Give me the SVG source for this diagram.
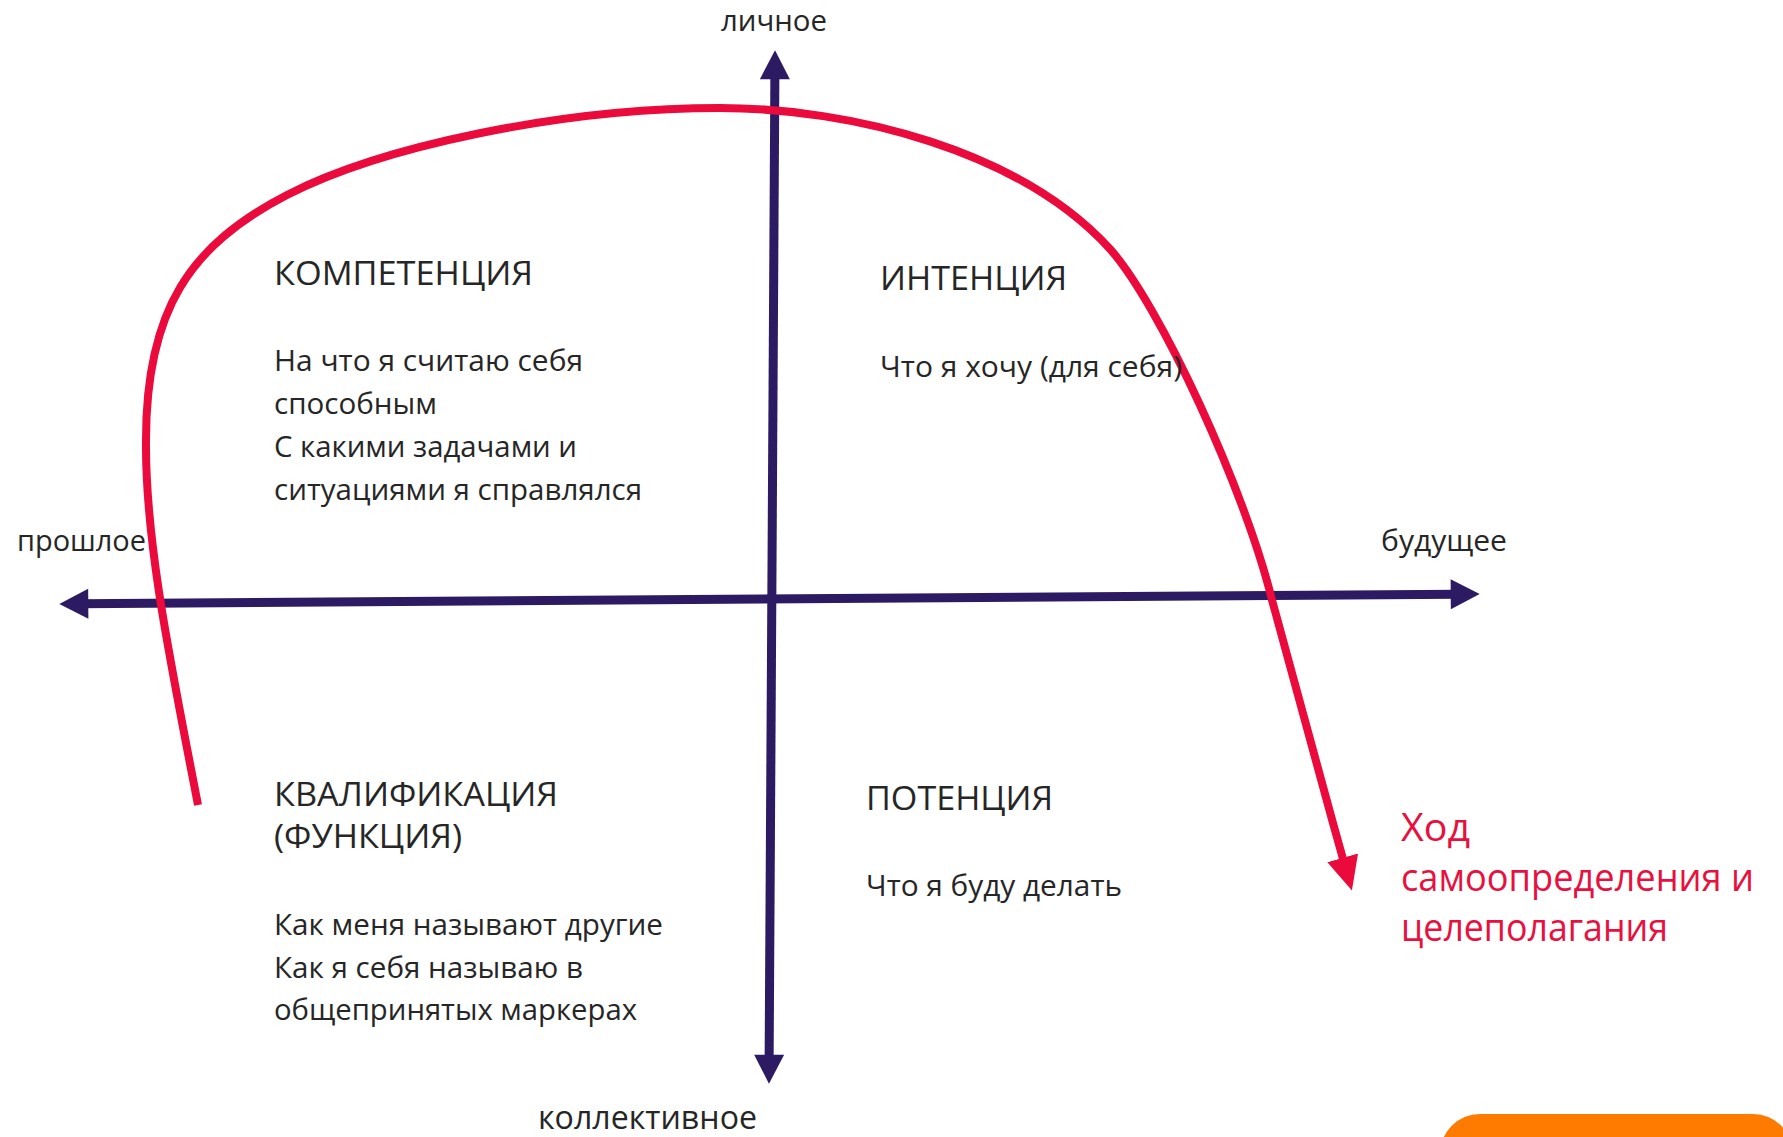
<svg xmlns="http://www.w3.org/2000/svg" width="1783" height="1137" viewBox="0 0 1783 1137">
  <style>
    text { font-family: "Open Sans", "Noto Sans", "DejaVu Sans", sans-serif; fill: #262626; }
    .ax { font-size: 30px; }
    .hd { font-size: 32px; }
    .bd { font-size: 29px; }
    .rd { font-size: 38px; fill: #E8103F; }
    .axis { stroke: #2C1A63; stroke-width: 9; fill: none; }
    .path { stroke: #EA0A3B; stroke-width: 8; fill: none; stroke-linecap: butt; }
  </style>
  <defs>
    <marker id="ah" markerUnits="userSpaceOnUse" markerWidth="30" markerHeight="30" viewBox="0 0 28 29" refX="8" refY="14.5" orient="auto-start-reverse">
      <path d="M0,0 L28,14.5 L0,29 Z" fill="#2C1A63"/>
    </marker>
    <marker id="rh" markerUnits="userSpaceOnUse" markerWidth="34" markerHeight="32" viewBox="0 0 32 30" refX="8" refY="15" orient="auto">
      <path d="M0,0 L32,15 L0,30 Z" fill="#EA0A3B"/>
    </marker>
  </defs>
  <rect width="1783" height="1137" fill="#ffffff"/>

  <g id="connectors">
    <line class="axis" x1="80" y1="603.8" x2="1459" y2="594.2" marker-start="url(#ah)" marker-end="url(#ah)"/>
    <line class="axis" x1="774.9" y1="71" x2="769.1" y2="1063" marker-start="url(#ah)" marker-end="url(#ah)"/>
    <path class="path" d="M198,805 C170,660 145,540 146,440 C146,310 190,245 287,195 C380,147 560,108 720,108 C850,108 1020,150 1110,249 C1160,305 1245,490 1272,600 C1290,668 1318,770 1345,866" marker-end="url(#rh)"/>
  </g>

  <g id="label-personal"><text class="ax" x="721" y="31" textLength="106" lengthAdjust="spacingAndGlyphs">личное</text></g>
  <g id="label-past"><text class="ax" x="17" y="551" textLength="129" lengthAdjust="spacingAndGlyphs">прошлое</text></g>
  <g id="label-future"><text class="ax" x="1381" y="551" textLength="126" lengthAdjust="spacingAndGlyphs">будущее</text></g>
  <g id="label-collective"><text class="ax" style="font-size:32px" x="538" y="1129" textLength="219" lengthAdjust="spacingAndGlyphs">коллективное</text></g>

  <g id="competence">
    <text class="hd" x="274" y="285" textLength="259" lengthAdjust="spacingAndGlyphs">КОМПЕТЕНЦИЯ</text>
    <text class="bd" x="274" y="371" textLength="309" lengthAdjust="spacingAndGlyphs">На что я считаю себя</text>
    <text class="bd" x="274" y="414" textLength="163" lengthAdjust="spacingAndGlyphs">способным</text>
    <text class="bd" x="274" y="457" textLength="303" lengthAdjust="spacingAndGlyphs">С какими задачами и</text>
    <text class="bd" x="274" y="500" textLength="368" lengthAdjust="spacingAndGlyphs">ситуациями  я справлялся</text>
  </g>

  <g id="intention">
    <text class="hd" x="880" y="290" textLength="187" lengthAdjust="spacingAndGlyphs">ИНТЕНЦИЯ</text>
    <text class="bd" x="880" y="377" textLength="302" lengthAdjust="spacingAndGlyphs">Что я хочу (для себя)</text>
  </g>

  <g id="qualification">
    <text class="hd" x="274" y="806" textLength="284" lengthAdjust="spacingAndGlyphs">КВАЛИФИКАЦИЯ</text>
    <text class="hd" x="274" y="848" textLength="188" lengthAdjust="spacingAndGlyphs">(ФУНКЦИЯ)</text>
    <text class="bd" x="274" y="935" textLength="389" lengthAdjust="spacingAndGlyphs">Как меня называют другие</text>
    <text class="bd" x="274" y="978" textLength="309" lengthAdjust="spacingAndGlyphs">Как я себя называю в</text>
    <text class="bd" x="274" y="1020" textLength="363" lengthAdjust="spacingAndGlyphs">общепринятых  маркерах</text>
  </g>

  <g id="potential">
    <text class="hd" x="866" y="810" textLength="187" lengthAdjust="spacingAndGlyphs">ПОТЕНЦИЯ</text>
    <text class="bd" x="866" y="896" textLength="256" lengthAdjust="spacingAndGlyphs">Что я буду делать</text>
  </g>

  <g id="course-label">
    <text class="rd" x="1401" y="841" textLength="69" lengthAdjust="spacingAndGlyphs">Ход</text>
    <text class="rd" x="1401" y="891" textLength="353" lengthAdjust="spacingAndGlyphs">самоопределения и</text>
    <text class="rd" x="1401" y="941" textLength="267" lengthAdjust="spacingAndGlyphs">целеполагания</text>
  </g>

  <g id="orange-tab">
    <rect x="1440" y="1114" width="353" height="80" rx="40" ry="40" fill="#FF7B00"/>
  </g>
</svg>
